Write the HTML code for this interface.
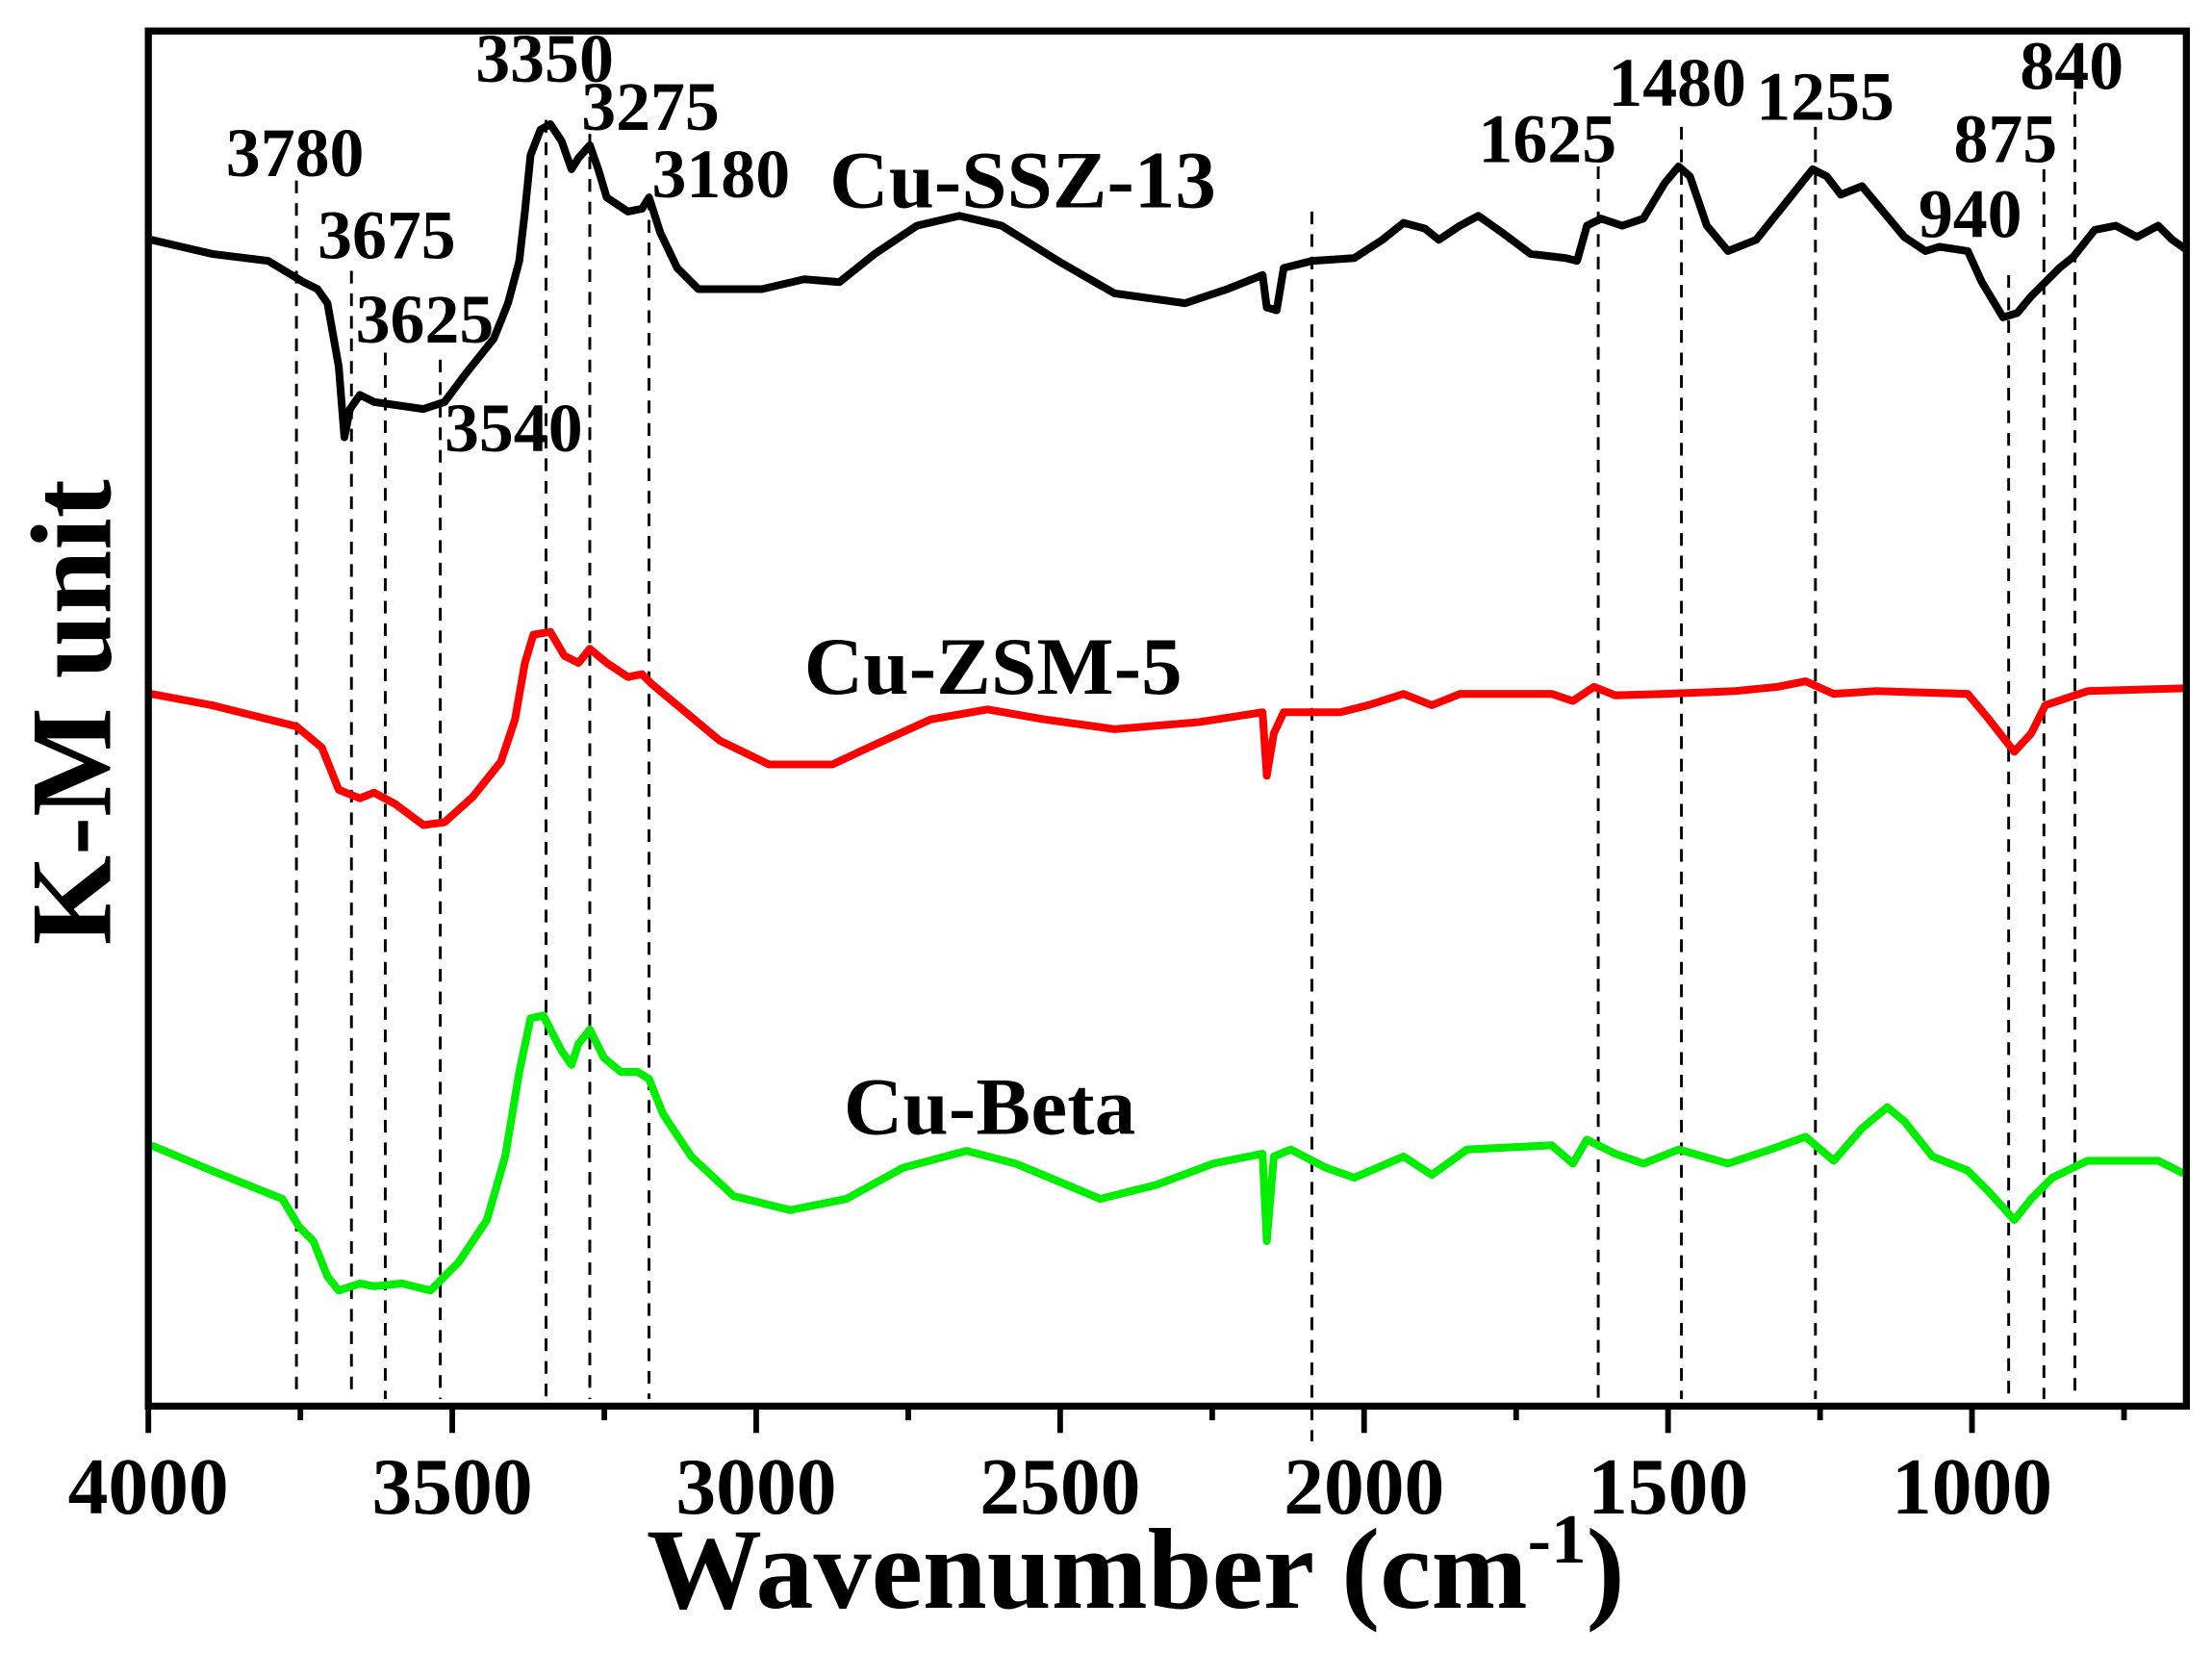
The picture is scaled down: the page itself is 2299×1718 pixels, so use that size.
<!DOCTYPE html>
<html><head><meta charset="utf-8"><style>
html,body{margin:0;padding:0;background:#fff}
svg{display:block}
text{font-family:"Liberation Serif",serif;font-weight:bold;fill:#000}
</style></head><body>
<svg width="2299" height="1718" viewBox="0 0 1568 1172" xmlns="http://www.w3.org/2000/svg">
<rect width="1568" height="1172" fill="#fff"/>
<g stroke="#000" stroke-width="2" stroke-dasharray="9,7" fill="none">
<line x1="210" y1="128" x2="210" y2="992"/>
<line x1="249" y1="192" x2="249" y2="992"/>
<line x1="273" y1="250" x2="273" y2="992"/>
<line x1="312" y1="255" x2="312" y2="992"/>
<line x1="387" y1="85" x2="387" y2="992"/>
<line x1="418" y1="95" x2="418" y2="992"/>
<line x1="460" y1="140" x2="460" y2="992"/>
<line x1="930" y1="150" x2="930" y2="1022"/>
<line x1="1133" y1="118" x2="1133" y2="992"/>
<line x1="1192" y1="90" x2="1192" y2="992"/>
<line x1="1287" y1="90" x2="1287" y2="992"/>
<line x1="1424" y1="195" x2="1424" y2="992"/>
<line x1="1449" y1="120" x2="1449" y2="992"/>
<line x1="1471" y1="65" x2="1471" y2="992"/>
</g>
<g fill="none" stroke-width="5.5" stroke-linejoin="round">
<polyline stroke="#000" points="107,170 150,180 190,185 215,200 225,205 232,215 240,260 244,310 248,290 255,280 265,285 300,290 315,285 330,265 350,240 360,215 368,185 372,150 376,110 383,92 390,88 398,100 405,120 410,112 418,103 424,120 430,140 445,150 455,148 460,140 468,165 480,190 495,205 540,205 570,198 595,200 620,180 650,160 680,153 710,160 750,185 790,208 840,215 870,205 895,195 898,218 905,220 910,190 930,185 960,183 980,170 995,158 1010,162 1020,170 1035,160 1048,153 1065,165 1085,180 1110,183 1118,185 1125,160 1135,155 1150,160 1165,155 1180,130 1190,118 1198,125 1210,160 1225,178 1245,170 1265,145 1285,120 1295,125 1305,138 1320,132 1335,150 1350,168 1365,178 1375,175 1395,178 1405,200 1420,225 1430,222 1440,210 1460,190 1470,182 1485,163 1500,160 1515,168 1530,160 1540,170 1550,177"/>
<polyline stroke="#ff0000" points="107,492 150,500 210,515 228,530 240,560 255,566 265,562 280,570 300,585 315,583 335,565 355,540 365,510 372,470 378,450 390,448 400,465 410,470 418,460 430,470 445,480 455,478 462,485 480,500 510,525 545,542 590,542 620,528 660,510 700,503 740,510 790,517 850,512 895,505 898,550 903,520 910,505 950,505 970,500 995,492 1015,500 1035,492 1100,492 1115,497 1130,487 1145,493 1180,492 1230,490 1260,487 1280,483 1300,492 1330,490 1395,492 1410,510 1428,533 1440,520 1450,500 1480,490 1548,488"/>
<polyline stroke="#00ee00" points="107,812 150,830 200,850 212,870 222,880 232,905 240,915 255,910 265,912 285,910 305,915 325,895 345,865 358,820 368,760 376,722 385,720 398,745 405,755 410,740 418,730 428,750 440,760 452,760 460,765 470,790 490,820 520,848 560,858 600,850 640,828 685,816 720,825 780,850 820,840 860,825 895,818 898,880 903,820 915,815 940,828 960,835 995,820 1015,833 1040,815 1100,812 1115,825 1125,808 1145,818 1165,825 1190,815 1225,825 1255,815 1280,806 1300,823 1320,800 1338,785 1350,795 1370,820 1395,830 1410,845 1428,865 1440,850 1455,835 1480,823 1530,823 1548,832"/>
</g>
<rect x="105" y="22" width="1445" height="975" fill="none" stroke="#000" stroke-width="5"/>
<g stroke="#000" stroke-width="4">
<line x1="105" y1="997" x2="105" y2="1016"/><line x1="320.5" y1="997" x2="320.5" y2="1016"/>
<line x1="536" y1="997" x2="536" y2="1016"/><line x1="751.5" y1="997" x2="751.5" y2="1016"/>
<line x1="967" y1="997" x2="967" y2="1016"/><line x1="1182.5" y1="997" x2="1182.5" y2="1016"/>
<line x1="1398" y1="997" x2="1398" y2="1016"/>
<line x1="212.8" y1="997" x2="212.8" y2="1007"/><line x1="428.3" y1="997" x2="428.3" y2="1007"/>
<line x1="643.8" y1="997" x2="643.8" y2="1007"/><line x1="859.3" y1="997" x2="859.3" y2="1007"/>
<line x1="1074.8" y1="997" x2="1074.8" y2="1007"/><line x1="1290.3" y1="997" x2="1290.3" y2="1007"/>
<line x1="1505.8" y1="997" x2="1505.8" y2="1007"/>
</g>
<g font-size="57" text-anchor="middle">
<text x="105" y="1073">4000</text><text x="320.5" y="1073">3500</text>
<text x="536" y="1073">3000</text><text x="751.5" y="1073">2500</text>
<text x="967" y="1073">2000</text><text x="1182.5" y="1073">1500</text>
<text x="1398" y="1073">1000</text>
</g>
<text x="805" y="1140" font-size="82" text-anchor="middle">Wavenumber (cm<tspan font-size="50" dy="-32">-1</tspan><tspan dy="32">)</tspan></text>
<text transform="translate(78,505) rotate(-90)" font-size="82" text-anchor="middle">K-M unit</text>
<g font-size="58">
<text x="588" y="147" textLength="274">Cu-SSZ-13</text>
<text x="570" y="492" textLength="268">Cu-ZSM-5</text>
<text x="598" y="804" textLength="207">Cu-Beta</text>
</g>
<g font-size="49">
<text x="160" y="125">3780</text><text x="225" y="183">3675</text>
<text x="252" y="243">3625</text><text x="315" y="320">3540</text>
<text x="337" y="58">3350</text><text x="412" y="92">3275</text>
<text x="462" y="140">3180</text><text x="1048" y="115">1625</text>
<text x="1140" y="75">1480</text><text x="1245" y="85">1255</text>
<text x="1360" y="168">940</text><text x="1385" y="115">875</text>
<text x="1432" y="63">840</text>
</g>
</svg>
</body></html>
